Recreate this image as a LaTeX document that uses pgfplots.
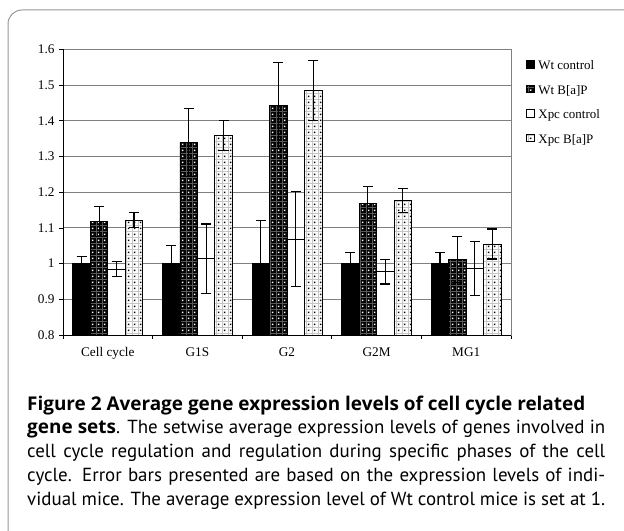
\documentclass[border=0pt]{standalone}
\usepackage{pgfplots}
\pgfplotsset{compat=1.18}
\usepackage{pgfplotstable}
\usetikzlibrary{patterns}
\usepackage{fontspec}
\setmainfont{Liberation Serif}
\newfontfamily\capfont{PT Sans}
\newfontfamily\capbf{Open Sans}

\pgfdeclarepatternformonly{cdots}{\pgfqpoint{0bp}{0bp}}{\pgfqpoint{6bp}{6bp}}{\pgfqpoint{6bp}{6bp}}{%
  \pgfpathrectangle{\pgfqpoint{2.2bp}{2.2bp}}{\pgfqpoint{1.6bp}{1.6bp}}\pgfusepath{fill}}
\pgfdeclarepatternformonly{cgrid}{\pgfqpoint{-0.5bp}{-0.5bp}}{\pgfqpoint{6.5bp}{6.5bp}}{\pgfqpoint{6bp}{6bp}}{%
  \pgfsetlinewidth{0.35bp}%
  \pgfpathmoveto{\pgfqpoint{0bp}{0bp}}\pgfpathlineto{\pgfqpoint{0bp}{6bp}}%
  \pgfpathmoveto{\pgfqpoint{0bp}{0bp}}\pgfpathlineto{\pgfqpoint{6bp}{0bp}}%
  \pgfusepath{stroke}}

\pgfplotstableread{
x y e
0 1.000 0.019
1 1.000 0.050
2 1.000 0.121
3 1.000 0.030
4 1.000 0.032
}\wtc
\pgfplotstableread{
x y e
0 1.118 0.042
1 1.339 0.096
2 1.443 0.120
3 1.169 0.047
4 1.011 0.065
}\wtb
\pgfplotstableread{
x y e
0 0.985 0.022
1 1.014 0.097
2 1.068 0.133
3 0.977 0.034
4 0.986 0.075
}\xpc
\pgfplotstableread{
x y e
0 1.122 0.021
1 1.358 0.042
2 1.485 0.083
3 1.177 0.034
4 1.055 0.042
}\xpb

\definecolor{gridgray}{RGB}{128,128,128}
\definecolor{framegray}{RGB}{150,150,150}

\begin{document}
\begin{tikzpicture}[x=1bp,y=1bp]
\path[use as bounding box] (0,0) rectangle (624,531);
\draw[framegray, line width=1bp, rounded corners=14bp] (8,0) -- (8,521) -- (624,521);

\begin{axis}[
  at={(63bp,196bp)}, anchor=south west,
  scale only axis, width=448bp, height=285.5bp,
  ybar=0pt, bar width=0.195,
  xmin=-0.5, xmax=4.5, ymin=0.8, ymax=1.6,
  xtick={-0.5,0.5,1.5,2.5,3.5,4.5}, xticklabels={},
  extra x ticks={0,1,2,3,4},
  extra x tick labels={Cell cycle,G1S,G2,G2M,MG1},
  extra x tick style={major tick length=0pt, grid=none},
  ytick={0.8,0.9,1,1.1,1.2,1.3,1.4,1.5,1.6},
  xtick pos=bottom, ytick pos=left,
  tick align=outside, major tick length=4bp,
  tick style={black, line width=0.8bp},
  ymajorgrids, major grid style={gridgray, line width=0.9bp},
  axis line style={gridgray, line width=0.9bp},
  /pgf/number format/assume math mode=true,
  ticklabel style={font=\fontsize{13.3}{15}\selectfont},
  yticklabel style={xshift=-1bp},
  xticklabel style={anchor=base, yshift=-22bp},
  error bars/y dir=both, error bars/y explicit,
  error bars/error bar style={black, line width=1.1bp},
  error bars/error mark options={rotate=90, mark size=5bp, line width=1.1bp, black},
  legend style={at={(1,1)}, anchor=north west, xshift=15bp, yshift=-10.5bp,
    draw=none, fill=none, font=\fontsize{13}{15}\selectfont,
    row sep=12.2bp, column sep=4bp, inner sep=0pt,
    nodes={inner sep=0pt, text height=9bp, text depth=3bp}},
  legend cell align=left,
  sqleg/.style={legend image code/.code={\draw[##1,/tikz/.cd,yshift=-0.15em,line width=0.7bp] (0bp,0bp) rectangle (7.5bp,7.5bp);}},
]
\addplot[fill=black, draw=black, line width=0.8bp, sqleg] table[x=x, y=y, y error=e] {\wtc};
\addlegendentry{Wt control}
\addplot[fill=black, draw=black, line width=0.8bp, sqleg,
  postaction={pattern=cgrid, pattern color=gray!70!black},
  postaction={pattern=cdots, pattern color=white}] table[x=x, y=y, y error=e] {\wtb};
\addlegendentry{Wt B[a]P}
\addplot[fill=white, draw=black, line width=0.8bp, sqleg] table[x=x, y=y, y error=e] {\xpc};
\addlegendentry{Xpc control}
\addplot[fill=white, draw=black, line width=0.8bp, sqleg,
  postaction={pattern=cgrid, pattern color=gray!45},
  postaction={pattern=cdots, pattern color=black}] table[x=x, y=y, y error=e] {\xpb};
\addlegendentry{Xpc B[a]P}
\end{axis}
\draw[black, line width=0.9bp] (63,481.5) -- (63,196) -- (511,196);

\node[anchor=north west, inner sep=0pt, text width=578bp, align=justify,
  font=\capfont\fontsize{19}{23.8}\selectfont] at (27,135.5)
{{\capbf\bfseries Figure 2 Average gene expression levels of cell cycle related}\\
{\capbf\bfseries gene sets}. The setwise average expression levels of genes involved in\linebreak
cell cycle regulation and regulation during specific phases of the cell\linebreak
cycle. Error bars presented are based on the expression levels of indi-\linebreak
vidual mice. The average expression level of Wt control mice is set at 1.};
\end{tikzpicture}
\end{document}
